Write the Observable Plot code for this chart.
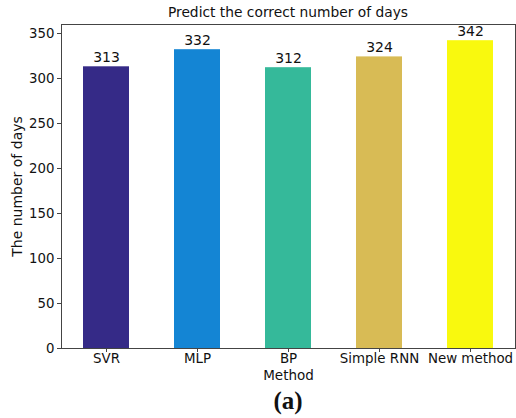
<!DOCTYPE html>
<html>
<head>
<meta charset="utf-8">
<script src="https://cdn.jsdelivr.net/npm/d3@7"></script>
<script src="https://cdn.jsdelivr.net/npm/@observablehq/plot@0.6"></script>
<style>
  body { margin: 0; background: #fff; }
  #wrap { position: relative; width: 516px; height: 418px; font-family: "DejaVu Sans", sans-serif; }
  #title { position: absolute; left: 61px; width: 454px; top: 4px; text-align: center; font-size: 13.8px; line-height: 16px; color: #111; z-index: 2; }
  #caption { position: absolute; left: 61px; width: 454px; top: 387px; text-align: center; font-family: "Liberation Serif", "DejaVu Serif", serif; font-weight: bold; font-size: 25px; color: #111; line-height: 28px; z-index: 2; }
  svg { position: absolute; left: 0; top: 0; }
</style>
</head>
<body>
<div id="wrap">
  <div id="chart"></div>
  <div id="title">Predict the correct number of days</div>
  <div id="caption">(a)</div>
</div>
<script>
const methods = ["SVR", "MLP", "BP", "Simple RNN", "New method"];
const days = [313, 332, 312, 324, 342];
const colors = ["#352a87", "#1485d4", "#35b99a", "#d8bb55", "#f9f90e"];
const yTicks = [0, 50, 100, 150, 200, 250, 300, 350];

const data = methods.map((m, i) => ({method: m, days: days[i], color: colors[i]}));

const chart = Plot.plot({
  width: 516,
  height: 418,
  marginTop: 24,
  marginRight: 1,
  marginBottom: 70,
  marginLeft: 61,
  style: {fontFamily: "DejaVu Sans, sans-serif", fontSize: "13px", color: "#111", background: "transparent"},
  x: {domain: methods, paddingInner: 0.5, paddingOuter: 0.225, label: null},
  y: {domain: [0, 360], label: null},
  marks: [
    Plot.barY(data, {x: "method", y: "days", fill: "color"}),
    Plot.text(data, {x: "method", y: "days", text: d => String(d.days), lineAnchor: "bottom", dy: -5, fontSize: 14, fill: "#111"}),
    Plot.axisY({ticks: yTicks, tickSize: 4, tickPadding: 3, fontSize: 13.3, label: null, stroke: "#444"}),
    Plot.axisX({tickSize: 4, tickPadding: 1, fontSize: 13.4, label: null, stroke: "#444"}),
    Plot.frame({stroke: "#444", strokeWidth: 1}),
    Plot.text(["The number of days"], {frameAnchor: "left", textAnchor: "middle", dx: -44, rotate: -90, fontSize: 14, fill: "#111"}),
    Plot.text(["Method"], {frameAnchor: "bottom", lineAnchor: "top", dy: 22, fontSize: 13.5, fill: "#111"})
  ]
});
document.getElementById("chart").appendChild(chart);
</script>
</body>
</html>
